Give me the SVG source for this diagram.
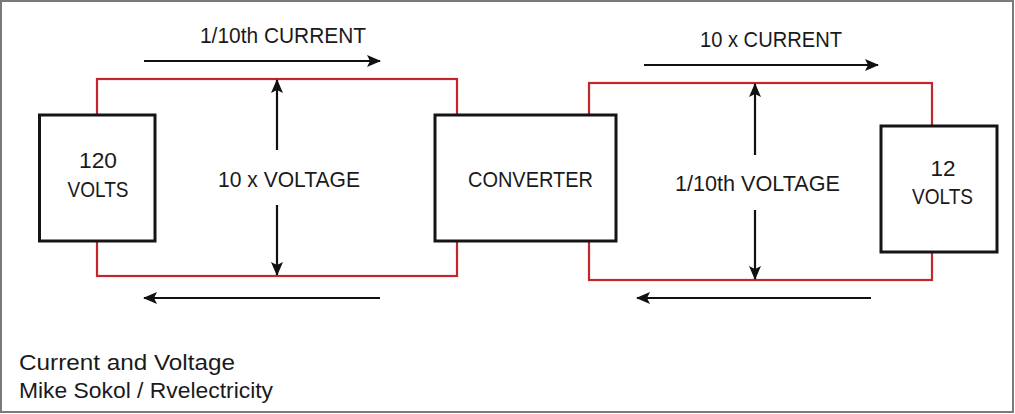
<svg xmlns="http://www.w3.org/2000/svg" width="1015" height="414" viewBox="0 0 1015 414">
<defs>
<marker id="ah" viewBox="0 0 14 12" refX="13" refY="6" markerWidth="14" markerHeight="12" markerUnits="userSpaceOnUse" orient="auto">
<path d="M0,0 L14,6 L0,12 L3,6 z" fill="#111"/>
</marker>
<style>
.wire{fill:none;stroke:#c3272b;stroke-width:2.2}
.box{fill:#fff;stroke:#151515;stroke-width:3}
.arr{fill:none;stroke:#111;stroke-width:2.2;marker-end:url(#ah)}
text{font-family:"Liberation Sans",Arial,sans-serif;font-size:22px;fill:#1a1a1a}
.c{text-anchor:middle}
</style>
</defs>
<rect x="0" y="0" width="1015" height="414" fill="#fff"/>
<rect x="1" y="1" width="1012" height="411" fill="none" stroke="#7a7a7a" stroke-width="2"/>
<g id="wires">
<rect class="wire" x="97" y="79" width="360" height="197"/>
<rect class="wire" x="589" y="83" width="343" height="197"/>
</g>
<g id="connectors">
<line class="arr" x1="144" y1="61" x2="380" y2="61"/>
<line class="arr" x1="380" y1="298" x2="144" y2="298"/>
<line class="arr" x1="277" y1="150" x2="277" y2="80"/>
<line class="arr" x1="277" y1="205" x2="277" y2="275"/>
<line class="arr" x1="644" y1="65" x2="878" y2="65"/>
<line class="arr" x1="871" y1="298" x2="637" y2="298"/>
<line class="arr" x1="755" y1="155" x2="755" y2="84"/>
<line class="arr" x1="755" y1="210" x2="755" y2="279"/>
</g>
<g id="source">
<rect class="box" x="39.5" y="115" width="115.5" height="126"/>
<text class="c" x="98" y="168" textLength="38" lengthAdjust="spacingAndGlyphs">120</text>
<text class="c" x="98" y="197" textLength="61" lengthAdjust="spacingAndGlyphs">VOLTS</text>
</g>
<g id="converter">
<rect class="box" x="435" y="115" width="181" height="126"/>
<text class="c" x="530.5" y="187" textLength="125" lengthAdjust="spacingAndGlyphs">CONVERTER</text>
</g>
<g id="load">
<rect class="box" x="881" y="126" width="116" height="126"/>
<text class="c" x="943" y="176" textLength="25" lengthAdjust="spacingAndGlyphs">12</text>
<text class="c" x="942.5" y="204" textLength="61" lengthAdjust="spacingAndGlyphs">VOLTS</text>
</g>
<g id="labels">
<text class="c" x="283" y="43" textLength="166" lengthAdjust="spacingAndGlyphs">1/10th CURRENT</text>
<text class="c" x="289" y="187" textLength="142" lengthAdjust="spacingAndGlyphs">10 x VOLTAGE</text>
<text class="c" x="771" y="47" textLength="142" lengthAdjust="spacingAndGlyphs">10 x CURRENT</text>
<text class="c" x="757.5" y="191" textLength="165" lengthAdjust="spacingAndGlyphs">1/10th VOLTAGE</text>
<text x="19" y="370" textLength="216" lengthAdjust="spacingAndGlyphs">Current and Voltage</text>
<text x="19" y="398" textLength="254" lengthAdjust="spacingAndGlyphs">Mike Sokol / Rvelectricity</text>
</g>
</svg>
